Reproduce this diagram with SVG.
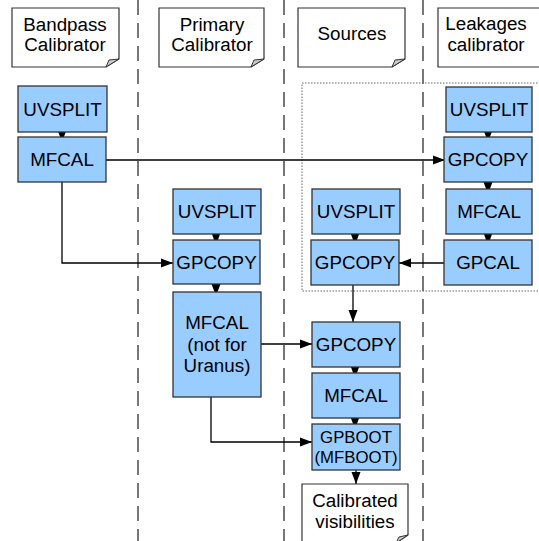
<svg xmlns="http://www.w3.org/2000/svg" width="539" height="541" viewBox="0 0 539 541">
<defs>
<style>
.lane{stroke:#555;stroke-width:1.6;stroke-dasharray:15 8;fill:none}
.group{stroke:#666;stroke-width:1;stroke-dasharray:1.5 1.5;fill:none}
.box{fill:#99ccff;stroke:#333;stroke-width:1.3}
.note{fill:#fff;stroke:#333;stroke-width:1.2}
.curl{fill:#ccc;stroke:#333;stroke-width:1}
.t{font-family:"Liberation Sans",Arial,sans-serif;font-size:18.8px;fill:#000;text-anchor:middle}
.ts{font-family:"Liberation Sans",Arial,sans-serif;font-size:16.8px;fill:#000;text-anchor:middle}
.c{stroke:#000;stroke-width:1.3;fill:none}
</style>
<marker id="ah" markerUnits="userSpaceOnUse" markerWidth="12" markerHeight="10" refX="12" refY="5" orient="auto">
<path d="M0,0.5 L12,5 L0,9.5 Z" fill="#000"/>
</marker>
</defs>
<rect width="539" height="541" fill="#fff"/>
<g id="lanes">
<line class="lane" x1="138" y1="0" x2="138" y2="541"/>
<line class="lane" x1="284" y1="0" x2="284" y2="541"/>
<line class="lane" x1="423" y1="0" x2="423" y2="541"/>
</g>
<g id="leakage-group">
<rect class="group" x="302" y="83" width="245" height="208"/>
</g>
<g id="hdr-bandpass">
<path class="note" d="M12,8 H119 V59 L106,67 H12 Z"/>
<path class="curl" d="M106,67 L109,60 L119,59 Z"/>
<text class="t" x="65" y="31">Bandpass</text>
<text class="t" x="65" y="51">Calibrator</text>
</g>
<g id="hdr-primary">
<path class="note" d="M159,8 H264 V59 L251,67 H159 Z"/>
<path class="curl" d="M251,67 L254,60 L264,59 Z"/>
<text class="t" x="212" y="31">Primary</text>
<text class="t" x="212" y="51">Calibrator</text>
</g>
<g id="hdr-sources">
<path class="note" d="M298,8 H405 V59 L392,67 H298 Z"/>
<path class="curl" d="M392,67 L395,60 L405,59 Z"/>
<text class="t" x="352" y="40">Sources</text>
</g>
<g id="hdr-leakages">
<path class="note" d="M438,8 H543 V67 H438 Z"/>
<text class="t" x="486" y="30">Leakages</text>
<text class="t" x="486" y="51">calibrator</text>
</g>
<g id="connectors">
<line class="c" x1="62" y1="132" x2="62" y2="142" marker-end="url(#ah)"/>
<line class="c" x1="106" y1="160" x2="445" y2="160" marker-end="url(#ah)"/>
<polyline class="c" points="62,182 62,263 173,263" marker-end="url(#ah)"/>
<line class="c" x1="216" y1="234" x2="216" y2="245" marker-end="url(#ah)"/>
<line class="c" x1="216" y1="284" x2="216" y2="296" marker-end="url(#ah)"/>
<line class="c" x1="261" y1="344" x2="312" y2="344" marker-end="url(#ah)"/>
<polyline class="c" points="211,397 211,442 312,442" marker-end="url(#ah)"/>
<line class="c" x1="488" y1="132" x2="488" y2="142" marker-end="url(#ah)"/>
<line class="c" x1="488" y1="182" x2="488" y2="194" marker-end="url(#ah)"/>
<line class="c" x1="488" y1="234" x2="488" y2="245" marker-end="url(#ah)"/>
<line class="c" x1="444" y1="263" x2="399" y2="263" marker-end="url(#ah)"/>
<line class="c" x1="355" y1="234" x2="355" y2="245" marker-end="url(#ah)"/>
<line class="c" x1="353" y1="285" x2="353" y2="322" marker-end="url(#ah)"/>
<line class="c" x1="355" y1="367" x2="355" y2="378" marker-end="url(#ah)"/>
<line class="c" x1="355" y1="418" x2="355" y2="429" marker-end="url(#ah)"/>
<line class="c" x1="356" y1="470" x2="356" y2="484" marker-end="url(#ah)"/>
</g>
<g id="bp-uvsplit">
<rect class="box" x="18" y="86" width="89" height="46"/>
<text class="t" x="62.5" y="116">UVSPLIT</text>
</g>
<g id="bp-mfcal">
<rect class="box" x="18" y="137" width="88" height="45"/>
<text class="t" x="62" y="166">MFCAL</text>
</g>
<g id="pr-uvsplit">
<rect class="box" x="173" y="189" width="88" height="45"/>
<text class="t" x="217" y="218">UVSPLIT</text>
</g>
<g id="pr-gpcopy">
<rect class="box" x="173" y="240" width="87" height="44"/>
<text class="t" x="216.5" y="269">GPCOPY</text>
</g>
<g id="pr-mfcal">
<rect class="box" x="173" y="292" width="88" height="105"/>
<text class="t" x="217" y="329">MFCAL</text>
<text class="t" x="217" y="351">(not for</text>
<text class="t" x="217" y="372">Uranus)</text>
</g>
<g id="lk-uvsplit">
<rect class="box" x="446" y="87" width="86" height="45"/>
<text class="t" x="489" y="116">UVSPLIT</text>
</g>
<g id="lk-gpcopy">
<rect class="box" x="444" y="137" width="88" height="45"/>
<text class="t" x="488" y="166">GPCOPY</text>
</g>
<g id="lk-mfcal">
<rect class="box" x="446" y="189" width="86" height="45"/>
<text class="t" x="489" y="218">MFCAL</text>
</g>
<g id="lk-gpcal">
<rect class="box" x="444" y="240" width="88" height="45"/>
<text class="t" x="488" y="269">GPCAL</text>
</g>
<g id="src-uvsplit">
<rect class="box" x="312" y="189" width="88" height="45"/>
<text class="t" x="356" y="218">UVSPLIT</text>
</g>
<g id="src-gpcopy1">
<rect class="box" x="311" y="240" width="88" height="45"/>
<text class="t" x="355" y="269">GPCOPY</text>
</g>
<g id="src-gpcopy2">
<rect class="box" x="312" y="322" width="88" height="45"/>
<text class="t" x="356" y="351">GPCOPY</text>
</g>
<g id="src-mfcal">
<rect class="box" x="312" y="373" width="88" height="45"/>
<text class="t" x="356" y="402">MFCAL</text>
</g>
<g id="src-gpboot">
<rect class="box" x="312" y="424" width="88" height="46"/>
<text class="ts" x="356" y="443">GPBOOT</text>
<text class="ts" x="356" y="463">(MFBOOT)</text>
</g>
<g id="calibrated">
<path class="note" d="M302,484 H408 V535 L396,543 H302 Z"/>
<path class="curl" d="M396,543 L399,537 L408,535 Z"/>
<text class="t" x="355" y="507">Calibrated</text>
<text class="t" x="355" y="528">visibilities</text>
</g>
</svg>
